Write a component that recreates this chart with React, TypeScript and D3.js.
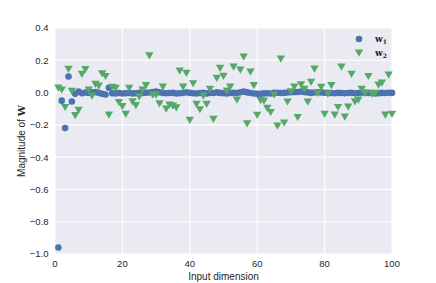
import * as d3 from "d3";
import * as React from "react";

// input dimension index, 1..100
const dims = d3.range(1, 101);

// first weight vector (blue circles)
const w1 = [
  -0.96, -0.05, -0.22, 0.1, -0.055, -0.008, 0.006, -0.004, 0.0, -0.003,
  0.002, 0.003, -0.002, -0.008, -0.012, 0.03, -0.004, -0.005, -0.003, -0.006,
  -0.004, -0.003, -0.005, -0.004, -0.002, -0.003, -0.001, 0.0, 0.004, 0.006,
  0.002, -0.002, -0.004, -0.003, -0.002, -0.006, -0.004, -0.003, 0.002, -0.002,
  -0.004, -0.006, -0.003, -0.001, -0.005, -0.002, -0.003, 0.001, -0.002, -0.004,
  -0.005, -0.003, -0.002, -0.003, 0.002, 0.006, 0.001, -0.003, -0.006, -0.007,
  -0.008, -0.005, -0.004, -0.006, -0.002, -0.001, -0.003, -0.002, 0.0, 0.002,
  0.003, 0.004, 0.006, 0.003, 0.001, -0.002, 0.0, 0.002, 0.001, -0.001,
  -0.002, -0.003, -0.004, -0.002, -0.003, -0.004, -0.003, -0.002, -0.004, -0.003,
  -0.001, 0.0, -0.002, -0.003, -0.005, -0.004, -0.002, -0.003, -0.001, -0.002,
];

// second weight vector (green triangles)
const w2 = [
  0.035, 0.023, -0.085, 0.152, 0.015, -0.136, -0.103, 0.12, 0.15, 0.023,
  -0.014, 0.058, 0.048, 0.124, 0.107, -0.132, 0.039, 0.033, -0.054, -0.08,
  -0.128, 0.033, -0.05, -0.074, -0.019, 0.023, 0.05, 0.235, -0.008, -0.008,
  -0.062, 0.041, -0.095, -0.07, -0.076, -0.087, 0.14, 0.041, 0.126, -0.165,
  0.062, -0.066, -0.099, -0.014, -0.066, 0.027, -0.159, 0.095, 0.157, 0.108,
  0.017, 0.041, 0.165, -0.039, 0.147, 0.227, -0.186, 0.134, 0.05, -0.134,
  -0.043, -0.045, -0.091, -0.116, -0.008, -0.2, 0.215, -0.181, -0.051, 0.012,
  0.041, -0.147, 0.056, 0.027, -0.052, 0.07, 0.153, 0.002, 0.039, -0.128,
  -0.002, 0.05, -0.132, -0.085, 0.165, -0.145, -0.083, 0.12, -0.05, -0.039,
  0.027, 0.002, 0.107, -0.002, 0.002, 0.054, 0.066, -0.132, 0.116, -0.128,
];

const xTicks = [0, 20, 40, 60, 80, 100];
const yTicks = [-1.0, -0.8, -0.6, -0.4, -0.2, 0.0, 0.2, 0.4];

const W = 436;
const H = 283;
const BLUE = "#4C72B0";
const GREEN = "#55A868";
const TEXT = "#262626";
const FONT = "'Liberation Sans', Arial, sans-serif";

export default function App() {
  const x = d3.scaleLinear().domain([0, 100]).range([55, 392]);
  const y = d3.scaleLinear().domain([-1.0, 0.4]).range([254, 28]);
  const tri = d3.symbol().type(d3.symbolTriangle).size(30)();
  const fmt = (v: number) => d3.format(".1f")(v).replace("-", "\u2212");

  return (
    <svg width={W} height={H} style={{ position: "absolute", left: 0, top: 0 }}>
      <rect width={W} height={H} fill="#fff" />
      <rect x={x(0)} y={y(0.4)} width={x(100) - x(0)} height={y(-1) - y(0.4)} fill="#EAEAF2" />
      {xTicks.map((t) => (
        <line key={"gx" + t} x1={x(t)} x2={x(t)} y1={y(0.4)} y2={y(-1)} stroke="#fff" strokeWidth={1.1} />
      ))}
      {yTicks.map((t) => (
        <line key={"gy" + t} x1={x(0)} x2={x(100)} y1={y(t)} y2={y(t)} stroke="#fff" strokeWidth={1.1} />
      ))}

      {dims.map((d, i) => (
        <circle key={"b" + d} cx={x(d)} cy={y(w1[i])} r={3.3} fill={BLUE} />
      ))}
      {dims.map((d, i) => (
        <path key={"g" + d} d={tri!} transform={`translate(${x(d)},${y(w2[i])}) rotate(180)`} fill={GREEN} />
      ))}

      <g fontFamily={FONT} fontSize={9.5} fill={TEXT}>
        {xTicks.map((t) => (
          <text key={"xt" + t} x={x(t)} y={267} textAnchor="middle">{t}</text>
        ))}
        {yTicks.map((t) => (
          <text key={"yt" + t} x={48.5} y={y(t) + 3.4} textAnchor="end">{fmt(t)}</text>
        ))}
        <text x={(x(0) + x(100)) / 2} y={280} textAnchor="middle" fontSize={10}>Input dimension</text>
        <text transform={`translate(25,${(y(0.4) + y(-1)) / 2}) rotate(-90)`} textAnchor="middle" fontSize={10}>
          Magnitude of <tspan fontFamily="'DejaVu Serif', serif" fontWeight="bold">W</tspan>
        </text>
      </g>

      <g fontFamily="'DejaVu Serif', serif" fontSize={9} fontWeight="bold" fill={TEXT}>
        <circle cx={359} cy={39} r={3.3} fill={BLUE} />
        <text x={375} y={42}>w<tspan fontSize={6} dy={2}>1</tspan></text>
        <path d={tri!} transform="translate(359,52) rotate(180)" fill={GREEN} />
        <text x={375} y={56}>w<tspan fontSize={6} dy={2}>2</tspan></text>
      </g>
    </svg>
  );
}
